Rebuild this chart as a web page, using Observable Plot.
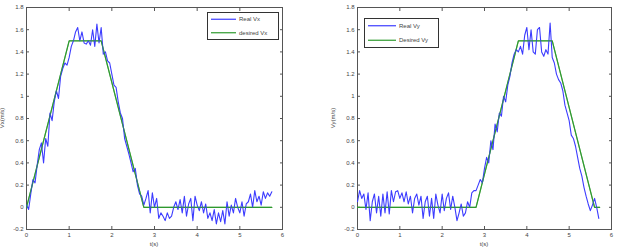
<!DOCTYPE html>
<html><head><meta charset="utf-8">
<script src="https://cdn.jsdelivr.net/npm/d3@7"></script>
<script src="https://cdn.jsdelivr.net/npm/@observablehq/plot@0.6"></script>
<style>
body{margin:0;background:#fff;font-family:"Liberation Sans",Arial,sans-serif;}
#wrap{position:relative;width:625px;height:249px;overflow:hidden;}
.pane{position:absolute;top:0;}
.legend{position:absolute;}
</style></head><body>
<div id="wrap"></div>
<script>
const dt = 0.05;
const realVx = [0.02,-0.02,0.12,0.25,0.22,0.38,0.52,0.58,0.40,0.62,0.55,0.85,0.78,0.95,1.05,0.98,1.18,1.25,1.30,1.28,
1.35,1.45,1.50,1.58,1.62,1.50,1.58,1.48,1.47,1.50,1.46,1.60,1.45,1.65,1.48,1.62,1.38,1.40,1.32,1.30,
1.20,1.10,1.08,0.95,0.85,0.80,0.62,0.55,0.48,0.40,0.32,0.35,0.20,0.12,0.10,0.02,0.08,0.15,-0.05,0.13,
0.00,0.08,-0.10,-0.05,-0.08,-0.12,-0.05,-0.10,-0.08,0.00,0.05,-0.02,0.07,-0.05,0.10,-0.08,0.03,0.08,-0.12,0.10,
0.02,-0.03,0.05,-0.05,0.03,-0.10,-0.05,-0.12,-0.02,-0.15,-0.05,-0.13,-0.03,-0.15,0.05,-0.08,0.02,-0.05,0.08,0.00,
-0.05,0.05,-0.08,0.03,0.05,0.12,0.00,0.15,0.05,0.10,0.02,0.14,0.08,0.13,0.10,0.14];
const desiredVxT = [0, 1.0, 1.75, 2.75, 5.75];
const desiredVx  = [0, 1.5, 1.5, 0, 0];
const realVy = [0.05,0.15,0.08,0.12,-0.02,0.13,-0.12,0.05,0.12,-0.05,0.10,-0.08,0.12,-0.05,0.14,-0.06,0.15,0.05,0.14,0.15,
0.08,0.13,0.05,0.14,0.03,0.10,-0.05,0.08,0.12,0.02,0.10,-0.10,0.05,0.10,-0.08,0.08,-0.10,0.12,0.02,-0.05,
0.12,-0.03,0.08,0.13,-0.02,0.10,0.00,-0.12,-0.05,0.03,-0.08,-0.05,0.05,0.00,0.13,0.15,0.15,0.20,0.25,0.22,
0.35,0.45,0.40,0.60,0.52,0.75,0.68,0.85,0.82,1.00,0.95,1.10,1.18,1.30,1.38,1.42,1.40,1.45,1.38,1.55,
1.62,1.42,1.60,1.40,1.38,1.60,1.62,1.40,1.36,1.42,1.38,1.66,1.35,1.30,1.20,1.15,1.12,1.05,0.92,0.85,
0.78,0.65,0.62,0.55,0.45,0.35,0.28,0.18,0.10,0.03,-0.03,0.02,0.08,0.00,-0.10];
const desiredVyT = [0, 2.8, 3.8, 4.6, 5.6, 5.72];
const desiredVy  = [0, 0, 1.5, 1.5, 0, 0];
const xTicks = [0,1,2,3,4,5,6];
const yTicks = [-0.2,0,0.2,0.4,0.6,0.8,1,1.2,1.4,1.6,1.8];
const yTickLabels = ["-0.2","0","0.2","0.4","0.6","0.8","1","1.2","1.4","1.6","1.8"];

const BLUE = "#3c3cff", GREEN = "#2e9a2e";
const toPts = (arr) => arr.map((v,i)=>({t:i*dt, v}));
const zip = (ts, vs) => ts.map((t,i)=>({t, v:vs[i]}));
const blank = () => "";

function panel({left, width, ml, mr, real, desired, ylabel}) {
  const p = Plot.plot({
    width, height: 249,
    marginLeft: ml, marginRight: mr, marginTop: 7, marginBottom: 20,
    style: {fontSize: "6px", fontFamily: "Liberation Sans, Arial, sans-serif", color: "#444", background: "#fff", overflow: "visible"},
    x: {domain: [0,6], ticks: xTicks},
    y: {domain: [-0.2,1.8], ticks: yTicks},
    marks: [
      Plot.frame({stroke: "#555", strokeWidth: 1}),
      Plot.axisX({anchor: "bottom", ticks: xTicks, tickSize: -3, tickPadding: 6, stroke: "#555", label: null, tickFormat: d=>String(d)}),
      Plot.axisX({anchor: "top", ticks: xTicks, tickSize: -3, tickFormat: blank, label: null, stroke: "#555"}),
      Plot.axisY({anchor: "left", ticks: yTicks, tickSize: -3, tickPadding: 6, stroke: "#555", label: null,
        tickFormat: d => yTickLabels[yTicks.findIndex(t => Math.abs(t-d) < 1e-9)]}),
      Plot.axisY({anchor: "right", ticks: yTicks, tickSize: -3, tickFormat: blank, label: null, stroke: "#555"}),
      Plot.line(desired, {x:"t", y:"v", stroke:GREEN, strokeWidth: 1.2}),
      Plot.line(real, {x:"t", y:"v", stroke:BLUE, strokeWidth: 1.1}),
      Plot.line(desired, {x:"t", y:"v", stroke:GREEN, strokeWidth: 1.1, strokeOpacity: 0.6})
    ]
  });
  const d = document.createElement("div");
  d.className = "pane"; d.style.left = left + "px";
  d.appendChild(p);
  const svg = d3.select(p);
  svg.append("text").attr("x", ml + (width-ml-mr)/2).attr("y", 246).attr("text-anchor","middle")
    .attr("font-size", 6).attr("fill", "#444").text("t(s)");
  svg.append("text").attr("transform", `translate(${ml-22},${7+(222)/2}) rotate(-90)`).attr("text-anchor","middle")
    .attr("font-size", 6).attr("fill", "#444").text(ylabel);
  document.getElementById("wrap").appendChild(d);
}

panel({left:0, width:312, ml:26, mr:30, real: toPts(realVx), desired: zip(desiredVxT, desiredVx), ylabel: "Vx(m/s)"});
panel({left:312, width:313, ml:45, mr:14, real: toPts(realVy), desired: zip(desiredVyT, desiredVy), ylabel: "Vy(m/s)"});

function legend(x, y, w, h, items, swLen) {
  const svg = d3.create("svg").attr("class","legend").attr("width", w+1).attr("height", h+1)
    .style("left", x+"px").style("top", y+"px");
  svg.append("rect").attr("x",0.5).attr("y",0.5).attr("width",w).attr("height",h).attr("fill","#fff").attr("stroke","#333");
  items.forEach((it,i) => {
    const cy = h/items.length*(i+0.5) + 0.5;
    svg.append("line").attr("x1",4).attr("x2",4+swLen).attr("y1",cy).attr("y2",cy).attr("stroke",it.c).attr("stroke-width",1.2);
    svg.append("text").attr("x",7+swLen).attr("y",cy).attr("dy","0.35em").attr("font-size",6)
      .attr("font-family","Liberation Sans, Arial, sans-serif").attr("fill","#444").text(it.t);
  });
  document.getElementById("wrap").appendChild(svg.node());
}
legend(207, 12, 71, 27, [{t:"Real Vx", c:BLUE},{t:"desired Vx", c:GREEN}], 25);
legend(364, 18, 74, 29, [{t:"Real Vy", c:BLUE},{t:"Desired Vy", c:GREEN}], 28);
</script></body></html>
